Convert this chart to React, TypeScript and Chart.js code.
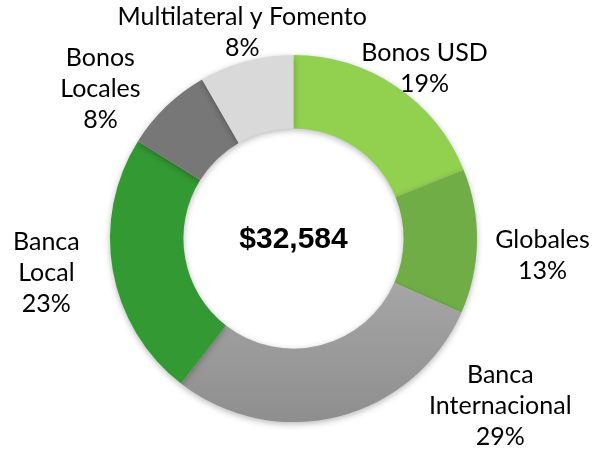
import React, { useEffect, useRef } from "react";
import { Chart, registerables } from "chart.js";

Chart.register(...registerables);

const categories = ["Bonos USD", "Globales", "Banca Internacional", "Banca Local", "Bonos Locales", "Multilateral y Fomento"];
const labelLines = [["Bonos USD"], ["Globales"], ["Banca", "Internacional"], ["Banca", "Local"], ["Bonos", "Locales"], ["Multilateral y Fomento"]];
const shares = [18.9, 12.7, 28.9, 23.4, 7.8, 8.3];
const totalLabel = "$32,584";
const colors = ["#92D050", "#70AD47", "GRADIENT", "#339933", "#777777", "#D9D9D9"];
// label placement: polar angle (deg, clockwise from top) and distance from center in outer-radius units
const labelAngle = [37.6, 94, 129, 262, 307.7, 346];
const labelDist = [1.17, 1.36, 1.45, 1.36, 1.33, 1.155];

export default function App() {
  const ref = useRef<HTMLCanvasElement>(null);
  useEffect(() => {
    const canvas = ref.current!;
    const shadowPlugin = {
      id: "shadow",
      beforeDatasetsDraw(chart: any) {
        const ctx = chart.ctx;
        ctx.save();
        ctx.shadowColor = "rgba(0,0,0,0.28)";
        ctx.shadowBlur = 6;
        ctx.shadowOffsetX = 0;
        ctx.shadowOffsetY = 2;
      },
      afterDatasetsDraw(chart: any) {
        chart.ctx.restore();
      },
    };
    const labelPlugin = {
      id: "labels",
      afterDraw(chart: any) {
        const ctx = chart.ctx;
        const meta = chart.getDatasetMeta(0);
        const arc0 = meta.data[0];
        const cx = arc0.x, cy = arc0.y, r = arc0.outerRadius;
        ctx.save();
        ctx.fillStyle = "#000";
        ctx.textAlign = "center";
        ctx.textBaseline = "middle";
        ctx.font = "25px Lato";
        const lh = 31;
        shares.forEach((v, i) => {
          const a = (labelAngle[i] * Math.PI) / 180;
          const x = cx + Math.sin(a) * r * labelDist[i];
          const y = cy - Math.cos(a) * r * labelDist[i];
          const lines = [...labelLines[i], Math.round(v) + "%"];
          const y0 = y - ((lines.length - 1) * lh) / 2;
          lines.forEach((t, k) => ctx.fillText(t, x, y0 + k * lh));
        });
        ctx.font = "bold 30px 'Liberation Sans', Arial";
        ctx.fillText(totalLabel, cx, cy + 1);
        ctx.restore();
      },
    };
    const chart = new Chart(canvas, {
      type: "doughnut",
      data: {
        labels: categories,
        datasets: [
          {
            data: shares,
            borderWidth: 0,
            backgroundColor: (c: any) => {
              const col = colors[c.dataIndex];
              if (col !== "GRADIENT") return col;
              const area = c.chart.chartArea;
              if (!area) return "#9E9E9E";
              const g = c.chart.ctx.createLinearGradient(0, (area.top + area.bottom) / 2, 0, area.bottom);
              g.addColorStop(0, "#ADADAD");
              g.addColorStop(1, "#8E8E8E");
              return g;
            },
          },
        ],
      },
      options: {
        animation: false,
        responsive: false,
        cutout: "60%",
        layout: { padding: { top: 55, bottom: 27, left: 110, right: 115 } },
        plugins: { legend: { display: false }, tooltip: { enabled: false } },
      },
      plugins: [shadowPlugin, labelPlugin],
    });
    return () => chart.destroy();
  }, []);
  return (
    <div style={{ position: "fixed", left: 0, top: 0, width: 592, height: 449, background: "#fff" }}>
      <canvas ref={ref} width={592} height={449} style={{ width: 592, height: 449 }} />
    </div>
  );
}
